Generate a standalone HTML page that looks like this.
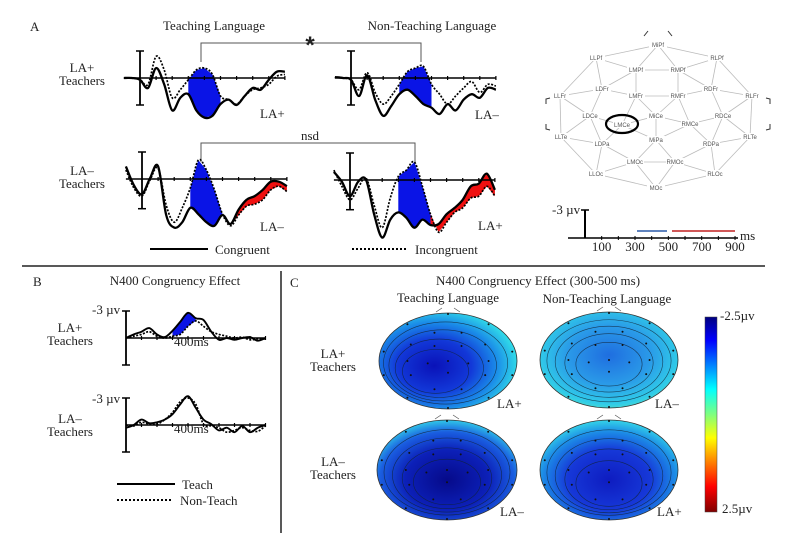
<!DOCTYPE html>
<html><head><meta charset="utf-8"><style>
html,body{margin:0;padding:0;background:#fff;}
svg{display:block;font-family:"Liberation Serif",serif;}
.t{font-size:13px;fill:#222;}
.e{font-family:"Liberation Sans",sans-serif;font-size:6px;fill:#555;}
</style></head><body>
<svg id="fig" width="800" height="543" viewBox="0 0 800 543" xmlns="http://www.w3.org/2000/svg">
<defs>
<radialGradient id="g1" cx="0.4" cy="0.55" r="0.6"><stop offset="0" stop-color="#0a12b8"/><stop offset="0.45" stop-color="#1238d8"/><stop offset="0.75" stop-color="#1a8ae8"/><stop offset="1" stop-color="#30d8e8"/></radialGradient>
<radialGradient id="g2" cx="0.5" cy="0.45" r="0.6"><stop offset="0" stop-color="#1f6ee0"/><stop offset="0.5" stop-color="#2a9ae8"/><stop offset="0.85" stop-color="#30cce8"/><stop offset="1" stop-color="#58e0c0"/></radialGradient>
<radialGradient id="g3" cx="0.5" cy="0.6" r="0.6"><stop offset="0" stop-color="#060a8a"/><stop offset="0.5" stop-color="#0c20b8"/><stop offset="0.8" stop-color="#1a5ee0"/><stop offset="1" stop-color="#30c8e8"/></radialGradient>
<radialGradient id="g4" cx="0.5" cy="0.6" r="0.6"><stop offset="0" stop-color="#0e1cc0"/><stop offset="0.5" stop-color="#1638d8"/><stop offset="0.8" stop-color="#1c8ae6"/><stop offset="1" stop-color="#34d4e8"/></radialGradient>
<linearGradient id="jet" x1="0" y1="0" x2="0" y2="1"><stop offset="0" stop-color="#00007f"/><stop offset="0.12" stop-color="#0000ff"/><stop offset="0.37" stop-color="#00ffff"/><stop offset="0.5" stop-color="#7fff7f"/><stop offset="0.62" stop-color="#ffff00"/><stop offset="0.87" stop-color="#ff0000"/><stop offset="1" stop-color="#7f0000"/></linearGradient>
</defs>

<!-- Panel A labels -->
<text x="30" y="31" class="t" font-size="14">A</text>
<text x="214" y="30" class="t" text-anchor="middle">Teaching Language</text>
<text x="432" y="30" class="t" text-anchor="middle">Non-Teaching Language</text>
<path d="M201,62 V43 H421 V62" fill="none" stroke="#555" stroke-width="1"/>
<text x="310" y="53" font-family="Liberation Sans, sans-serif" font-size="24" font-weight="bold" fill="#222" text-anchor="middle">*</text>
<path d="M201,162 V143 H415 V162" fill="none" stroke="#555" stroke-width="1"/>
<text x="310" y="140" class="t" text-anchor="middle">nsd</text>
<text x="82" y="72" class="t" text-anchor="middle">LA+</text>
<text x="82" y="85" class="t" text-anchor="middle">Teachers</text>
<text x="82" y="175" class="t" text-anchor="middle">LA–</text>
<text x="82" y="188" class="t" text-anchor="middle">Teachers</text>
<text x="260" y="118" class="t">LA+</text>
<text x="475" y="119" class="t">LA–</text>
<text x="260" y="231" class="t">LA–</text>
<text x="478" y="230" class="t">LA+</text>
<line x1="150" y1="249" x2="208" y2="249" stroke="#000" stroke-width="2"/>
<text x="215" y="254" class="t" font-size="14">Congruent</text>
<line x1="352" y1="249" x2="408" y2="249" stroke="#000" stroke-width="2" stroke-dasharray="2,2"/>
<text x="415" y="254" class="t" font-size="14">Incongruent</text>

<g id="plots"></g>
<g id="map"></g>

<!-- time scale legend -->
<g>
<line x1="585" y1="210" x2="585" y2="238" stroke="#000" stroke-width="2"/>
<line x1="581" y1="210" x2="589" y2="210" stroke="#000" stroke-width="1.5"/>
<line x1="568" y1="238" x2="738" y2="238" stroke="#000" stroke-width="1.5"/>
<text x="552" y="214" class="t" font-size="10">-3 µv</text>
<text x="740" y="240" class="t" font-size="10">ms</text>
<line x1="637" y1="231" x2="667" y2="231" stroke="#2a5aa8" stroke-width="1.5"/>
<line x1="672" y1="231" x2="735" y2="231" stroke="#c02020" stroke-width="1.5"/>
</g>
<g id="tscale"></g>

<!-- dividers -->
<line x1="22" y1="266" x2="765" y2="266" stroke="#222" stroke-width="1.5"/>
<line x1="281" y1="271" x2="281" y2="533" stroke="#222" stroke-width="1.5"/>

<!-- Panel B -->
<text x="33" y="286" class="t" font-size="14">B</text>
<text x="175" y="285" class="t" text-anchor="middle" font-size="12.5">N400 Congruency Effect</text>
<text x="70" y="332" class="t" text-anchor="middle">LA+</text>
<text x="70" y="345" class="t" text-anchor="middle">Teachers</text>
<text x="70" y="423" class="t" text-anchor="middle">LA–</text>
<text x="70" y="436" class="t" text-anchor="middle">Teachers</text>
<text x="92" y="314" class="t" font-size="11">-3 µv</text>
<text x="92" y="403" class="t" font-size="11">-3 µv</text>
<text x="174" y="346" class="t" font-size="8">400ms</text>
<text x="174" y="433" class="t" font-size="8">400ms</text>
<line x1="117" y1="484" x2="175" y2="484" stroke="#000" stroke-width="2"/>
<text x="182" y="489" class="t" font-size="14">Teach</text>
<line x1="117" y1="500" x2="173" y2="500" stroke="#000" stroke-width="2" stroke-dasharray="2,2"/>
<text x="180" y="505" class="t" font-size="14">Non-Teach</text>

<!-- Panel C -->
<text x="290" y="287" class="t" font-size="14">C</text>
<text x="538" y="285" class="t" text-anchor="middle" font-size="12.5">N400 Congruency Effect (300-500 ms)</text>
<text x="448" y="302" class="t" text-anchor="middle" font-size="12.5">Teaching Language</text>
<text x="607" y="303" class="t" text-anchor="middle" font-size="12.5">Non-Teaching Language</text>
<text x="333" y="358" class="t" text-anchor="middle">LA+</text>
<text x="333" y="371" class="t" text-anchor="middle">Teachers</text>
<text x="333" y="466" class="t" text-anchor="middle">LA–</text>
<text x="333" y="479" class="t" text-anchor="middle">Teachers</text>
<g id="topos"></g>
<text x="497" y="408" class="t" font-size="12">LA+</text>
<text x="655" y="408" class="t" font-size="12">LA–</text>
<text x="500" y="516" class="t" font-size="12">LA–</text>
<text x="657" y="516" class="t" font-size="12">LA+</text>
<rect x="705" y="317" width="12" height="195" fill="url(#jet)" stroke="#444" stroke-width="0.5"/>
<text x="720" y="320" class="t" font-size="11">-2.5µv</text>
<text x="722" y="513" class="t" font-size="11">2.5µv</text>
</svg>
<script>
// time points (ms) shared by panel A waveforms
const timesA = [-100,-50,0,50,100,150,200,250,300,350,400,450,500,550,600,650,700,750,800,850,900];
// Panel A values in µV (negative plotted up)
const a1Cong  = [0,0,0.2,1.1,-1.1,0.7,3.6,2.2,1.8,3.6,4.4,4.2,2.9,2.4,3,2,1.1,1.3,0.2,-0.7,-0.7];
const a1Incong= [0,0,0.2,0.7,-2.4,-0.9,2.2,1.3,0.2,-0.9,-1.1,-0.4,2,2.4,2.9,2,1.3,1.1,0.7,-0.2,-0.4];
const a2Cong  = [-0.1,0,0.2,2,-0.3,2.4,4.2,3.1,1.8,1.3,2,2.9,3.3,4,2.9,3.6,2.4,1.8,2.2,1.1,1.3];
const a2Incong= [-0.1,0,0.2,1.3,-0.6,1.6,2.9,2,0.7,-0.7,-1.1,-1.3,0.7,1.8,2.9,2,1.1,0.4,1.6,0.7,0.9];
const a3Cong  = [-1.4,0.7,1.7,-0.1,-1.4,4,5.4,4.8,3.2,3.9,4.8,5.2,4,5,3.4,2.3,1.9,1.2,0.3,0.3,0.8];
const a3Incong= [-1,1,1.9,0.1,-1.2,2.9,4.8,3.2,1,-2.1,-1,1.2,3.9,5.2,4,3,2.8,2.3,1.2,0.8,1.4];
const a4Cong  = [-0.9,0.2,1.8,0.2,0,3.8,6.4,4.4,3.6,4.2,5.3,4.4,5,4.9,3.8,3.1,2.2,0.7,0.4,-0.7,1.1];
const a4Incong= [-1.1,0.7,2.2,0.9,-0.2,2.8,5.3,2,-0.4,-1.1,-2,0.7,3.8,5.8,4.7,3.6,3.1,2,1.8,0.7,1.8];
// Panel B difference waves
const timesB = [0,50,100,150,200,250,300,350,400,450,500,550,600,650,700,750,800,850,900];
const b1Teach = [0,-0.4,-0.7,-1.1,-0.4,-0.1,-0.8,-1.8,-2.8,-2.2,-2,-0.7,0.2,0,0.2,0,-0.1,0.3,0];
const b1NonTeach = [0,-0.2,-0.4,-0.7,-0.2,0,-0.2,-0.4,-1.3,-1.9,-1.3,-0.7,-0.4,-0.2,0,-0.1,0.2,0.1,0.1];
const b2Teach = [0.3,0,-0.6,-0.2,-0.3,-0.6,-1.2,-2.3,-3.2,-1.9,-0.6,-0.1,0.6,0.3,0.8,0.1,0.8,0.3,0];
const b2NonTeach = [0,0.1,-0.3,-0.1,-0.1,-0.6,-1.4,-2.6,-3,-2.3,-0.1,0.1,0.3,0.8,0.6,0.3,0.6,0.7,0.1];
// time scale tick labels
const scaleTicks = [100,300,500,700,900];

const NS='http://www.w3.org/2000/svg';
function mk(tag,attrs,parent){const e=document.createElementNS(NS,tag);for(const k in attrs)e.setAttribute(k,attrs[k]);parent.appendChild(e);return e;}
function smooth(pts){let d='M'+pts[0][0].toFixed(1)+','+pts[0][1].toFixed(1);
 for(let i=0;i<pts.length-1;i++){const p0=pts[Math.max(i-1,0)],p1=pts[i],p2=pts[i+1],p3=pts[Math.min(i+2,pts.length-1)];
  const c1=[p1[0]+(p2[0]-p0[0])/6,p1[1]+(p2[1]-p0[1])/6],c2=[p2[0]-(p3[0]-p1[0])/6,p2[1]-(p3[1]-p1[1])/6];
  d+=' C'+c1[0].toFixed(1)+','+c1[1].toFixed(1)+' '+c2[0].toFixed(1)+','+c2[1].toFixed(1)+' '+p2[0].toFixed(1)+','+p2[1].toFixed(1);}
 return d;}
function interp(times,vals,t){for(let i=0;i<times.length-1;i++){if(t>=times[i]&&t<=times[i+1]){const f=(t-times[i])/(times[i+1]-times[i]);return vals[i]+f*(vals[i+1]-vals[i]);}}return vals[vals.length-1];}
const plotsG=document.getElementById('plots');
function erp(cfg){
 const g=mk('g',{},plotsG);
 
 
 const X=t=>cfg.x0+t*cfg.sx, Y=v=>cfg.y0+v*cfg.sy;
 (cfg.shades||[]).forEach(s=>{
  const up=[],dn=[];
  for(let t=s.from;t<=s.to;t+=5){up.push([X(t),Y(interp(cfg.times,cfg.a,t))]);dn.push([X(t),Y(interp(cfg.times,cfg.b,t))]);}
  const p=mk('path',{d:'M'+up.map(q=>q.join(',')).join(' L')+' L'+dn.reverse().map(q=>q.join(',')).join(' L')+'Z',fill:s.color},g);
  
  
 });
 const ax=mk('line',{x1:X(cfg.times[0]),y1:cfg.y0,x2:X(cfg.times[cfg.times.length-1]),y2:cfg.y0,stroke:'#000','stroke-width':1.5},g);
 
 
 for(let t=100;t<=cfg.times[cfg.times.length-1];t+=100){mk('line',{x1:X(t),y1:cfg.y0-2,x2:X(t),y2:cfg.y0+2,stroke:'#000','stroke-width':1.2},g);}
 const yb=mk('line',{x1:X(0),y1:Y(-3),x2:X(0),y2:Y(cfg.bot),stroke:'#000','stroke-width':1.8},g);
 
 
 mk('line',{x1:X(0)-4,y1:Y(-3),x2:X(0)+4,y2:Y(-3),stroke:'#000','stroke-width':1.5},g);
 mk('line',{x1:X(0)-4,y1:Y(cfg.bot),x2:X(0)+4,y2:Y(cfg.bot),stroke:'#000','stroke-width':1.5},g);
 const la=mk('path',{d:smooth(cfg.times.map((t,i)=>[X(t),Y(cfg.a[i])])),fill:'none',stroke:'#000','stroke-width':cfg.w||2.3},g);
 
 
 const lb=mk('path',{d:smooth(cfg.times.map((t,i)=>[X(t),Y(cfg.b[i])])),fill:'none',stroke:'#000','stroke-width':1.7,'stroke-dasharray':'2,1.5'},g);
 
 
}
const BL='#0a14e6',RD='#f01010';
erp({name:'erp-la-plus-teaching',times:timesA,a:a1Cong,b:a1Incong,x0:140,y0:78,sx:0.161,sy:9,bot:3,shades:[{from:300,to:500,color:BL}]});
erp({name:'erp-la-plus-nonteaching',times:timesA,a:a2Cong,b:a2Incong,x0:351,y0:78,sx:0.161,sy:9,bot:3,shades:[{from:300,to:500,color:BL}]});
erp({name:'erp-la-minus-teaching',times:timesA,a:a3Cong,b:a3Incong,x0:142,y0:179,sx:0.161,sy:9,bot:3.3,shades:[{from:300,to:500,color:BL},{from:500,to:900,color:RD}]});
erp({name:'erp-la-minus-nonteaching',times:timesA,a:a4Cong,b:a4Incong,x0:350,y0:180,sx:0.161,sy:9,bot:3.3,shades:[{from:300,to:500,color:BL},{from:500,to:900,color:RD}]});
erp({name:'diff-la-plus',times:timesB,a:b1Teach,b:b1NonTeach,x0:126,y0:338,sx:0.155,sy:9,bot:3,w:1.9,shades:[{from:300,to:450,color:BL}]});
erp({name:'diff-la-minus',times:timesB,a:b2Teach,b:b2NonTeach,x0:126,y0:425,sx:0.155,sy:9,bot:3,w:1.9,shades:[]});

const ts=document.getElementById('tscale');
scaleTicks.forEach(v=>{const x=585+v*0.1667;
 const tl=mk('text',{x:x,y:251,'text-anchor':'middle',class:'t','font-size':11},ts);tl.textContent=v;
 
 });
for(let v=100;v<=900;v+=100){mk('line',{x1:585+v*0.1667,y1:236,x2:585+v*0.1667,y2:240,stroke:'#000'},ts);}

const el={MiPf:[658,45],LLPf:[596,58],RLPf:[717,58],LMPf:[636,70],RMPf:[678,70],LDFr:[602,89],RDFr:[711,89],LLFr:[560,96],RLFr:[752,96],LMFr:[636,96],RMFr:[678,96],LDCe:[590,116],MiCe:[656,116],RDCe:[723,116],LMCe:[622,125],RMCe:[690,124],LLTe:[561,137],LDPa:[602,144],MiPa:[656,140],RDPa:[711,144],RLTe:[750,137],LMOc:[635,162],RMOc:[675,162],LLOc:[596,174],RLOc:[715,174],MOc:[656,188]};
const edges=[['MiPf','LLPf'],['MiPf','RLPf'],['MiPf','LMPf'],['MiPf','RMPf'],['LMPf','RMPf'],['LLPf','LMPf'],['RLPf','RMPf'],['LLPf','LDFr'],['RLPf','RDFr'],['LLPf','LLFr'],['RLPf','RLFr'],['LMPf','LDFr'],['RMPf','RDFr'],['LMPf','LMFr'],['RMPf','RMFr'],['LMFr','RMFr'],['LDFr','LLFr'],['RDFr','RLFr'],['LDFr','LMFr'],['RDFr','RMFr'],['LDFr','LDCe'],['RDFr','RDCe'],['LLFr','LDCe'],['RLFr','RDCe'],['LLFr','LLTe'],['RLFr','RLTe'],['LMFr','LMCe'],['LMFr','MiCe'],['RMFr','MiCe'],['RMFr','RMCe'],['LDCe','LMCe'],['MiCe','LMCe'],['MiCe','RMCe'],['RDCe','RMCe'],['LDCe','LLTe'],['RDCe','RLTe'],['LDCe','LDPa'],['RDCe','RDPa'],['LMCe','LDPa'],['LMCe','MiPa'],['MiCe','MiPa'],['RMCe','MiPa'],['RMCe','RDPa'],['LLTe','LDPa'],['RLTe','RDPa'],['LLTe','LLOc'],['RLTe','RLOc'],['LDPa','LLOc'],['RDPa','RLOc'],['LDPa','LMOc'],['RDPa','RMOc'],['MiPa','LMOc'],['MiPa','RMOc'],['LMOc','RMOc'],['LLOc','LMOc'],['RLOc','RMOc'],['LLOc','MOc'],['RLOc','MOc'],['LMOc','MOc'],['RMOc','MOc']];
const mg=document.getElementById('map');
edges.forEach(([a,b])=>mk('line',{x1:el[a][0],y1:el[a][1],x2:el[b][0],y2:el[b][1],stroke:'#bbb','stroke-width':0.8},mg));
Object.keys(el).forEach(k=>{const [x,y]=el[k];
 mk('rect',{x:x-9,y:y-4,width:18,height:7,fill:'#fff'},mg);
 const t=mk('text',{x:x,y:y+2,'text-anchor':'middle',class:'e'},mg);t.textContent=k;
 
 });
const circ=mk('ellipse',{cx:622,cy:124,rx:16,ry:9,fill:'none',stroke:'#000','stroke-width':2.2},mg);


[['M644,36 l4,-5'],['M668,31 l4,5'],['M546,104 l0,-5 l4,-1'],['M546,124 l0,5 l4,1'],['M770,104 l0,-5 l-4,-1'],['M770,124 l0,5 l-4,1']].forEach(d=>mk('path',{d:d[0],fill:'none',stroke:'#333','stroke-width':1},mg));

const tg=document.getElementById('topos');
const topos=[{cx:448,cy:361,rx:69,ry:48,g:'g1',ox:-8,oy:4,n:'topo-la-plus-teaching'},{cx:609,cy:360,rx:69,ry:48,g:'g2',ox:0,oy:0,n:'topo-la-plus-nonteaching'},{cx:447,cy:470,rx:70,ry:50,g:'g3',ox:0,oy:5,n:'topo-la-minus-teaching'},{cx:609,cy:470,rx:69,ry:50,g:'g4',ox:0,oy:6,n:'topo-la-minus-nonteaching'}];
topos.forEach(h=>{
 const g=mk('g',{},tg);
 
 
 mk('ellipse',{cx:h.cx,cy:h.cy,rx:h.rx,ry:h.ry,fill:'url(#'+h.g+')',stroke:'#333','stroke-width':0.8},g);
 [0.9,0.78,0.64,0.48].forEach(f=>mk('ellipse',{cx:h.cx+h.ox*(1-f)*3,cy:h.cy+h.oy*(1-f)*3+(1-f)*8,rx:h.rx*f,ry:h.ry*f*0.95,fill:'none',stroke:'#123','stroke-width':0.6,opacity:0.8},g));
 const dots=[[0,-1],[-0.6,-0.78],[0.6,-0.78],[-0.2,-0.6],[0.2,-0.6],[-0.55,-0.35],[0.55,-0.35],[-0.2,-0.32],[0.2,-0.32],[-0.95,-0.2],[0.95,-0.2],[-0.6,0],[0,0],[0.6,0],[-0.3,0.05],[0.3,0.05],[-0.95,0.3],[0.95,0.3],[-0.55,0.3],[0,0.25],[0.55,0.3],[-0.2,0.6],[0.2,0.6],[-0.6,0.78],[0.6,0.78],[0,1]];
 dots.forEach(d=>mk('circle',{cx:h.cx+d[0]*h.rx*0.98,cy:h.cy+d[1]*h.ry*0.98,r:1,fill:'#111'},g));
 mk('path',{d:'M'+(h.cx-12)+','+(h.cy-h.ry-1)+' l6,-4 M'+(h.cx+12)+','+(h.cy-h.ry-1)+' l-6,-4',fill:'none',stroke:'#555','stroke-width':0.7},g);
});
</script>
</body></html>
